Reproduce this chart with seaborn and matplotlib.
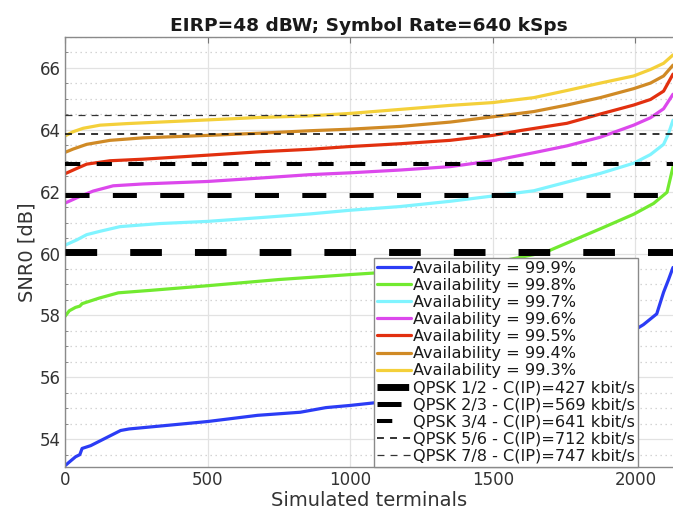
import numpy as np
import pandas as pd
import matplotlib
matplotlib.use("Agg")
import matplotlib.pyplot as plt
import seaborn as sns
from matplotlib.lines import Line2D
from matplotlib.ticker import MultipleLocator

# ---------------- data ----------------
avail_labels = ["Availability = 99.9%", "Availability = 99.8%", "Availability = 99.7%",
                "Availability = 99.6%", "Availability = 99.5%", "Availability = 99.4%",
                "Availability = 99.3%"]
avail_colors = ["#2b3cf5", "#72ea30", "#80f4ff", "#dc48ec", "#e2300f", "#d08a25", "#f4d03a"]

x_999 = [0, 15, 37, 52, 60, 90, 135, 195, 225, 375, 500, 675, 825, 915, 1000, 1080,
         1300, 1600, 1850, 2028, 2075, 2099, 2116, 2132]
y_999 = [53.14, 53.26, 53.43, 53.50, 53.70, 53.79, 54.00, 54.28, 54.33, 54.46, 54.57, 54.77,
         54.87, 55.02, 55.09, 55.17, 55.40, 55.90, 56.70, 57.70, 58.05, 58.75, 59.15, 59.55]

x_998 = [0, 15, 37, 52, 60, 120, 187, 300, 500, 750, 1000, 1250, 1500, 1684, 1877, 1994,
         2064, 2111, 2132]
y_998 = [57.97, 58.15, 58.26, 58.30, 58.38, 58.56, 58.73, 58.81, 58.96, 59.16, 59.32, 59.47,
         59.70, 60.04, 60.80, 61.27, 61.62, 61.98, 62.80]

x_997 = [0, 41, 76, 123, 193, 333, 500, 683, 858, 1000, 1176, 1351, 1500, 1644, 1760, 1877,
         1994, 2053, 2099, 2116, 2132]
y_997 = [60.27, 60.44, 60.61, 60.72, 60.87, 60.97, 61.04, 61.16, 61.28, 61.40, 61.52, 61.69,
         61.86, 62.03, 62.31, 62.59, 62.92, 63.20, 63.53, 63.87, 64.31]

x_996 = [0, 53, 99, 169, 274, 500, 683, 858, 1000, 1176, 1351, 1500, 1644, 1760, 1877, 1994,
         2053, 2099, 2132]
y_996 = [61.63, 61.85, 62.02, 62.19, 62.25, 62.33, 62.44, 62.55, 62.61, 62.70, 62.81, 63.00,
         63.26, 63.48, 63.76, 64.15, 64.39, 64.68, 65.15]

x_995 = [0, 41, 76, 158, 274, 500, 683, 858, 1000, 1176, 1351, 1500, 1600, 1760, 1877, 1994,
         2053, 2099, 2132]
y_995 = [62.58, 62.75, 62.89, 63.00, 63.05, 63.18, 63.29, 63.37, 63.46, 63.55, 63.66, 63.82,
         63.98, 64.21, 64.51, 64.80, 64.98, 65.25, 65.80]

x_994 = [0, 29, 76, 158, 274, 500, 683, 858, 1000, 1176, 1351, 1500, 1644, 1760, 1877, 1994,
         2053, 2099, 2132]
y_994 = [63.27, 63.38, 63.53, 63.66, 63.74, 63.82, 63.89, 63.97, 64.02, 64.11, 64.25, 64.42,
         64.59, 64.80, 65.04, 65.33, 65.51, 65.74, 66.09]

x_993 = [0, 29, 64, 123, 216, 333, 500, 683, 858, 1000, 1176, 1351, 1500, 1644, 1760, 1877,
         1994, 2053, 2099, 2132]
y_993 = [63.80, 63.94, 64.05, 64.15, 64.20, 64.25, 64.32, 64.40, 64.45, 64.53, 64.66, 64.79,
         64.88, 65.04, 65.27, 65.51, 65.74, 65.95, 66.15, 66.42]

qpsk_labels = ["QPSK 1/2 - C(IP)=427 kbit/s", "QPSK 2/3 - C(IP)=569 kbit/s",
               "QPSK 3/4 - C(IP)=641 kbit/s", "QPSK 5/6 - C(IP)=712 kbit/s",
               "QPSK 7/8 - C(IP)=747 kbit/s"]
qpsk_snr = [60.05, 61.90, 62.90, 63.88, 64.48]

x_ticks = [0, 500, 1000, 1500, 2000]
y_ticks = [54, 56, 58, 60, 62, 64, 66]

# ---------------- styles ----------------
qpsk_lw = [5.0, 3.6, 2.9, 1.2, 0.9]
qpsk_dash = [(22.8, 23.8), (17.3, 16.8), (11.0, 11.8), (5.0, 4.4), (5.0, 4.4)]
qpsk_handle_dash = [(22.8, 23.8), (17.3, 16.8), (11.0, 16.0), (5.0, 4.4), (5.0, 4.4)]
qpsk_col = ["black", "black", "black", "#111111", "#333333"]

sns.set_style("white")
plt.rcParams["font.family"] = ["DejaVu Sans"]
plt.rcParams["lines.scale_dashes"] = False

xs = [x_999, x_998, x_997, x_996, x_995, x_994, x_993]
ys = [y_999, y_998, y_997, y_996, y_995, y_994, y_993]
frames = []
for lab, xv, yv in zip(avail_labels, xs, ys):
    frames.append(pd.DataFrame({"terminal": xv, "snr": yv, "series": lab}))
df = pd.concat(frames, ignore_index=True)

fig = plt.figure(figsize=(6.73, 5.14), dpi=100)
ax = fig.add_axes([65 / 673, 47 / 514, 1 - 65 / 673, 430 / 514])

sns.lineplot(data=df, x="terminal", y="snr", hue="series", hue_order=avail_labels,
             palette=avail_colors, linewidth=2.3, estimator=None, sort=False,
             legend=False, ax=ax)

for val, lw, dsh, col in zip(qpsk_snr, qpsk_lw, qpsk_dash, qpsk_col):
    ax.axhline(val, color=col, lw=lw, linestyle=(0, dsh), zorder=5)

ax.set_xlim(0, 2132)
ax.set_ylim(53.1, 67.0)
ax.set_xticks(x_ticks)
ax.set_yticks(y_ticks)
ax.yaxis.set_minor_locator(MultipleLocator(0.5))

ax.grid(which="major", color="#e2e2e2", lw=0.9)
ax.grid(which="minor", axis="y", color="#cfcfcf", lw=0.9, linestyle=(0, (1.0, 2.6)))
ax.set_axisbelow(True)

ax.tick_params(which="major", direction="in", top=True, right=False, length=4,
               color="#777777", labelsize=12, labelcolor="#333333", pad=3)
ax.tick_params(which="minor", axis="y", direction="in", left=True, right=False,
               length=2.5, color="#777777")
ax.tick_params(which="minor", axis="x", bottom=False, top=False)

for s in ["left", "bottom", "top"]:
    ax.spines[s].set_color("#8a8a8a")
    ax.spines[s].set_linewidth(1.0)
ax.spines["right"].set_visible(False)

ax.set_xlabel("Simulated terminals", fontsize=14, color="#333333", labelpad=1)
ax.set_ylabel("SNR0 [dB]", fontsize=14, color="#333333", labelpad=2)
ax.set_title("EIRP=48 dBW; Symbol Rate=640 kSps", fontsize=13.3, fontweight="bold",
             color="#1a1a1a", pad=4)

handles = []
for lab, col in zip(avail_labels, avail_colors):
    handles.append(Line2D([], [], color=col, lw=2.3, label=lab))
for lab, lw, dsh, col in zip(qpsk_labels, qpsk_lw, qpsk_handle_dash, qpsk_col):
    handles.append(Line2D([], [], color=col, lw=lw, linestyle=(0, dsh), label=lab))

leg = ax.legend(handles=handles, loc="lower left", bbox_to_anchor=(0.508, 0.0),
                borderaxespad=0, fontsize=11.6, handlelength=2.1, handletextpad=0.12,
                labelspacing=0.13, borderpad=0.2, frameon=True, fancybox=False,
                framealpha=1.0, edgecolor="#8a8a8a")
leg.get_frame().set_linewidth(1.0)
leg.set_zorder(10)
for t in leg.get_texts():
    t.set_color("#1a1a1a")

fig.savefig("out.png", dpi=100)
